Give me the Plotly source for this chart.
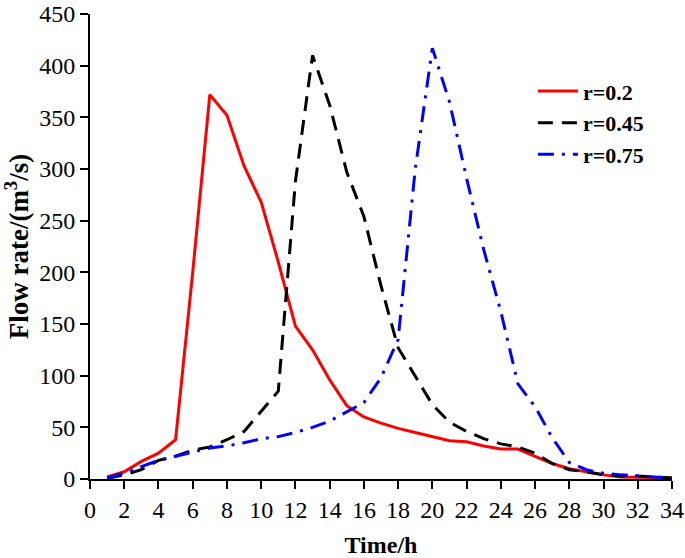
import plotly.graph_objects as go

# time steps (h)
hours = list(range(1, 35))

# flow rate (m3/s) for each r
flow_r02 = [2, 7, 17, 25, 38, 200, 372, 352, 303, 268, 210, 148, 125, 96, 71, 60,
            54, 49, 45, 41, 37, 36, 32, 29, 29, 22, 15, 10, 7, 4, 2, 2, 1.5, 1]
flow_r045 = [0.5, 4, 9, 18, 22, 28, 31, 38, 46, 65, 85, 288, 410, 362, 297, 254,
             187, 127, 100, 72, 55, 46, 39, 34, 31, 25, 15, 9, 7, 4, 3, 3, 2, 1]
flow_r075 = [1, 6, 12, 18, 22, 26, 30, 32, 35, 39, 41, 45, 50, 56, 65, 74,
             98, 135, 300, 417, 365, 291, 222, 162, 92, 70, 40, 16, 9, 5.5, 4, 3, 2, 1]

font_name = "Liberation Serif, Times New Roman, serif"

fig = go.Figure()

fig.add_trace(go.Scatter(
    x=hours, y=flow_r02, mode='lines', name='r=0.2',
    line=dict(color='#ff0000', width=3)
))
fig.add_trace(go.Scatter(
    x=hours, y=flow_r045, mode='lines', name='r=0.45',
    line=dict(color='black', width=3, dash='15px,9px')
))
fig.add_trace(go.Scatter(
    x=hours, y=flow_r075, mode='lines', name='r=0.75',
    line=dict(color='#0000ff', width=3, dash='16px,8px,3px,8px')
))

# automargin is off so the plot area stays exactly where the margins put it
fig.update_layout(
    width=685, height=558,
    margin=dict(l=90, r=13, t=14, b=79),
    plot_bgcolor='white', paper_bgcolor='white',
    font=dict(family=font_name, color='black', size=24),
    showlegend=True,
    legend=dict(
        x=0.761, y=0.879, xanchor='left', yanchor='top',
        bgcolor='rgba(0,0,0,0)',
        font=dict(family=font_name, size=22, color='black', weight='bold'),
        itemwidth=40, tracegroupgap=0
    ),
    xaxis=dict(
        range=[0, 34], dtick=2, tick0=0, automargin=False,
        showline=True, linecolor='black', linewidth=2,
        ticks='outside', ticklen=8, tickwidth=2, tickcolor='black',
        ticklabeloverflow='allow',
        showgrid=False, zeroline=False,
        title=dict(text='<b>Time/h</b>', standoff=17,
                   font=dict(family=font_name, size=24))
    ),
    yaxis=dict(
        range=[0, 450], dtick=50, automargin=False,
        showline=True, linecolor='black', linewidth=2,
        ticks='outside', ticklen=8, tickwidth=2, tickcolor='black',
        ticklabeloverflow='allow',
        showgrid=False, zeroline=False,
        title=dict(text='<b>Flow rate/(m<sup>3</sup>/s)</b>', standoff=12,
                   font=dict(family=font_name, size=27))
    )
)

# drop the browser's default 8px body margin so the figure fills the window
fig.write_html("out.html", config={'displayModeBar': False},
               post_script="document.body.style.margin='0px';")
